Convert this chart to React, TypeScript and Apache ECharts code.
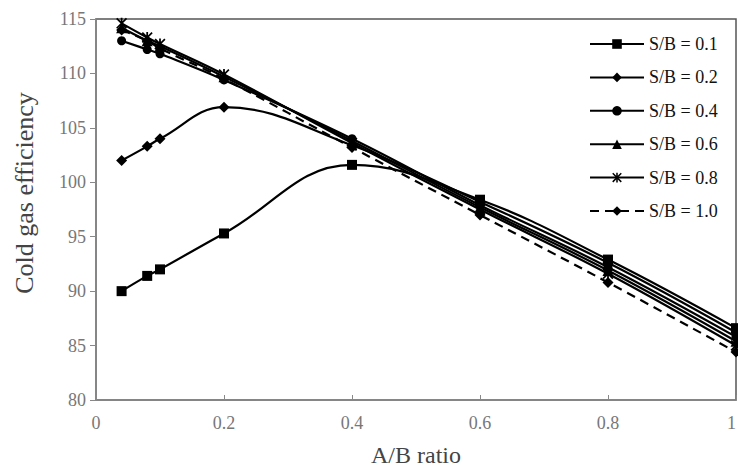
import React, { useEffect, useRef } from "react";
import * as echarts from "echarts";

const xValues = [0.04, 0.08, 0.1, 0.2, 0.4, 0.6, 0.8, 1.0];
const seriesNames = ["S/B = 0.1", "S/B = 0.2", "S/B = 0.4", "S/B = 0.6", "S/B = 0.8", "S/B = 1.0"];
const sb01 = [90.0, 91.4, 92.0, 95.3, 101.6, 98.4, 92.9, 86.6];
const sb02 = [102.0, 103.3, 104.0, 106.9, 103.4, 98.2, 92.6, 86.2];
const sb04 = [113.0, 112.2, 111.8, 109.4, 104.0, 97.9, 92.2, 85.8];
const sb06 = [114.2, 113.0, 112.5, 109.7, 103.8, 97.7, 91.9, 85.4];
const sb08 = [114.6, 113.3, 112.7, 109.9, 103.6, 97.5, 91.6, 85.0];
const sb10 = [114.0, 113.0, 112.3, 109.5, 103.2, 97.0, 90.8, 84.4];
const yTicks = [80, 85, 90, 95, 100, 105, 110, 115];
const xTicks = [0, 0.2, 0.4, 0.6, 0.8, 1];
const yTitle = "Cold gas efficiency";
const xTitle = "A/B ratio";

const asterisk =
  "path://M4.2,0h1.6v10h-1.6z M0,1.1l1.1,-1.1l8.9,8.9l-1.1,1.1z M8.9,0l1.1,1.1l-8.9,8.9l-1.1,-1.1z";

const FONT = "Liberation Serif";

export default function App() {
  const ref = useRef<HTMLDivElement>(null);
  useEffect(() => {
    if (!ref.current) return;
    const chart = echarts.init(ref.current, undefined, { renderer: "svg" });
    const allData = [sb01, sb02, sb04, sb06, sb08, sb10];
    const symbols = ["rect", "diamond", "circle", "triangle", asterisk, "diamond"];
    const sizes = [10, 11, 9, 11, 11, 11];
    chart.setOption({
      animation: false,
      backgroundColor: "#ffffff",
      textStyle: { fontFamily: FONT },
      grid: {
        left: 96,
        right: 2,
        top: 19,
        bottom: 69,
        show: true,
        borderColor: "#555",
        borderWidth: 1.5,
        outerBoundsMode: "none",
        containLabel: false,
      },
      graphic: [
        {
          type: "text",
          x: 24,
          y: 193,
          rotation: Math.PI / 2,
          style: {
            text: yTitle,
            font: "26px 'Liberation Serif', serif",
            fontFamily: FONT,
            fontSize: 26,
            fill: "#444",
            align: "center",
            verticalAlign: "middle",
          },
        },
      ],
      legend: {
        orient: "vertical",
        left: 584,
        top: 30,
        itemWidth: 54,
        itemHeight: 12,
        itemGap: 15.4,
        data: seriesNames,
        textStyle: { fontFamily: FONT, fontSize: 18, color: "#111" },
      },
      xAxis: {
        type: "value",
        min: 0,
        max: 1,
        interval: 0.2,
        name: xTitle,
        nameLocation: "middle",
        nameGap: 43,
        nameTextStyle: { fontFamily: FONT, fontSize: 24, color: "#444" },
        axisLine: { show: true, lineStyle: { color: "#888", width: 1.5 } },
        axisTick: { show: true, inside: true, length: 5, lineStyle: { color: "#888" } },
        splitLine: { show: false },
        axisLabel: {
          fontFamily: FONT,
          fontSize: 18,
          color: "#777",
          margin: 14,
          alignMaxLabel: "right",
          formatter: (v: number) => (xTicks.includes(Math.round(v * 10) / 10) ? String(Math.round(v * 10) / 10) : ""),
        },
      },
      yAxis: {
        type: "value",
        min: 80,
        max: 115,
        interval: 5,
        axisLine: { show: true, lineStyle: { color: "#888", width: 1.5 } },
        axisTick: { show: true, inside: false, length: 6, lineStyle: { color: "#888" } },
        splitLine: { show: false },
        axisLabel: {
          fontFamily: FONT,
          fontSize: 18,
          color: "#777",
          margin: 10,
          formatter: (v: number) => (yTicks.includes(v) ? String(v) : ""),
        },
      },
      series: allData.map((d, i) => ({
        name: seriesNames[i],
        type: "line",
        data: d.map((y, j) => [xValues[j], y]),
        smooth: 0.4,
        symbol: symbols[i],
        symbolSize: sizes[i],
        showAllSymbol: true,
        clip: false,
        lineStyle: {
          color: "#000",
          width: 2.2,
          type: i === 5 ? [9, 6] : "solid",
        },
        itemStyle: { color: "#000", borderColor: "#000", borderWidth: 0 },
        z: 10 - i,
      })),
    });
    return () => chart.dispose();
  }, []);
  return <div ref={ref} style={{ width: 738, height: 469, position: "absolute", left: 0, top: 0 }} />;
}
